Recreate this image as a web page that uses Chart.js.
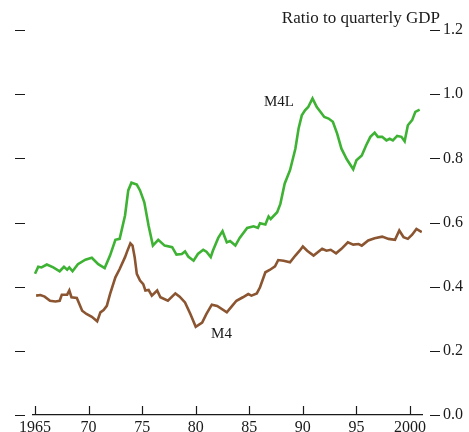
<!DOCTYPE html>
<html>
<head>
<meta charset="utf-8">
<script src="https://cdn.jsdelivr.net/npm/chart.js@4.4.1/dist/chart.umd.min.js"></script>
<style>
    html, body { margin: 0; padding: 0; background: #ffffff; }
    #wrap { width: 469px; height: 432px; }
</style>
</head>
<body>
<div id="wrap"><canvas id="moneyChart" width="469" height="432"></canvas></div>
<script>
// M4L ratio to quarterly GDP (year, value)
const m4lYears = [
    1965.0, 1965.3, 1965.6, 1966.1, 1966.7, 1967.3, 1967.7, 1968.0, 1968.2, 1968.5,
    1969.0, 1969.7, 1970.3, 1970.9, 1971.5, 1972.0, 1972.5, 1972.9, 1973.4, 1973.7,
    1974.0, 1974.5, 1974.8, 1975.2, 1975.6, 1976.0, 1976.5, 1977.1, 1977.8, 1978.2,
    1978.7, 1979.0, 1979.3, 1979.8, 1980.2, 1980.7, 1981.0, 1981.4, 1981.6, 1982.1,
    1982.5, 1982.9, 1983.2, 1983.7, 1984.1, 1984.8, 1985.4, 1985.8, 1986.0, 1986.5,
    1986.8, 1987.0, 1987.6, 1987.9, 1988.3, 1988.8, 1989.3, 1989.6, 1989.9, 1990.2,
    1990.5, 1990.9, 1991.3, 1991.6, 1992.0, 1992.4, 1992.8, 1993.2, 1993.6, 1994.1,
    1994.7, 1995.0, 1995.5, 1995.9, 1996.3, 1996.7, 1997.0, 1997.4, 1997.8, 1998.1,
    1998.4, 1998.8, 1999.2, 1999.5, 1999.8, 2000.2, 2000.5, 2000.9
];
const m4lValues = [
    0.440, 0.462, 0.460, 0.469, 0.460, 0.448, 0.462, 0.453, 0.460, 0.448,
    0.470, 0.484, 0.490, 0.470, 0.458, 0.497, 0.546, 0.549, 0.622, 0.700,
    0.724, 0.718, 0.700, 0.663, 0.590, 0.528, 0.546, 0.528, 0.523, 0.500,
    0.502, 0.510, 0.494, 0.481, 0.502, 0.515, 0.509, 0.492, 0.512, 0.552,
    0.573, 0.538, 0.542, 0.528, 0.552, 0.583, 0.588, 0.583, 0.598, 0.594,
    0.619, 0.611, 0.632, 0.658, 0.721, 0.763, 0.830, 0.893, 0.934, 0.950,
    0.960, 0.987, 0.960, 0.947, 0.929, 0.924, 0.914, 0.877, 0.830, 0.797,
    0.766, 0.794, 0.809, 0.840, 0.867, 0.880, 0.867, 0.867, 0.856, 0.861,
    0.856, 0.870, 0.867, 0.853, 0.903, 0.919, 0.945, 0.952
];

// M4 ratio to quarterly GDP (year, value)
const m4Years = [
    1965.1, 1965.5, 1965.9, 1966.4, 1966.9, 1967.3, 1967.5, 1968.0, 1968.2, 1968.4,
    1968.9, 1969.4, 1969.8, 1970.3, 1970.8, 1971.1, 1971.4, 1971.7, 1972.0, 1972.5,
    1972.9, 1973.4, 1973.6, 1973.9, 1974.1, 1974.3, 1974.5, 1974.8, 1975.1, 1975.3,
    1975.6, 1975.9, 1976.4, 1976.7, 1977.4, 1978.1, 1978.5, 1979.0, 1979.5, 1980.0,
    1980.6, 1981.0, 1981.5, 1982.0, 1982.9, 1983.4, 1983.8, 1984.4, 1984.9, 1985.2,
    1985.7, 1986.0, 1986.5, 1986.9, 1987.4, 1987.7, 1988.2, 1988.8, 1989.3, 1989.7,
    1990.0, 1990.4, 1991.0, 1991.8, 1992.2, 1992.6, 1993.1, 1993.6, 1994.2, 1994.7,
    1995.2, 1995.5, 1996.1, 1996.7, 1997.4, 1998.0, 1998.6, 1999.0, 1999.4, 1999.8,
    2000.2, 2000.6, 2001.1
];
const m4Values = [
    0.372, 0.374, 0.369, 0.356, 0.354, 0.356, 0.375, 0.375, 0.388, 0.367,
    0.365, 0.325, 0.315, 0.306, 0.292, 0.320, 0.327, 0.340, 0.377, 0.429,
    0.455, 0.492, 0.510, 0.535, 0.528, 0.492, 0.440, 0.419, 0.408, 0.388,
    0.390, 0.372, 0.388, 0.367, 0.356, 0.379, 0.369, 0.351, 0.315, 0.275,
    0.288, 0.315, 0.344, 0.340, 0.320, 0.340, 0.356, 0.367, 0.377, 0.372,
    0.379, 0.398, 0.445, 0.452, 0.463, 0.483, 0.481, 0.476, 0.497, 0.512,
    0.525, 0.512, 0.497, 0.518, 0.512, 0.515, 0.504, 0.518, 0.538, 0.531,
    0.533, 0.528, 0.544, 0.551, 0.556, 0.549, 0.546, 0.575, 0.554, 0.549,
    0.562, 0.580, 0.570
];

const xTickYears = [1965, 1970, 1975, 1980, 1985, 1990, 1995, 2000];
const xTickLabels = ['1965', '70', '75', '80', '85', '90', '95', '2000'];
const yTickValues = [0, 0.2, 0.4, 0.6, 0.8, 1.0, 1.2];

const inkColor = '#1a1a1a';
const serifFont = '"Liberation Serif", "DejaVu Serif", serif';

function toPoints(xs, ys) {
    return xs.map((x, i) => ({ x: x, y: ys[i] }));
}

// Dashes on both sides, upward ticks on the year axis, labels
const decorations = {
    id: 'decorations',
    afterDraw(chart) {
        const ctx = chart.ctx;
        const area = chart.chartArea;
        const xs = chart.scales.x;
        const ys = chart.scales.y;

        ctx.save();
        ctx.strokeStyle = inkColor;
        ctx.lineWidth = 1.2;

        yTickValues.forEach(v => {
            const py = Math.round(ys.getPixelForValue(v)) + 0.5;
            ctx.beginPath();
            ctx.moveTo(15, py);
            ctx.lineTo(25, py);
            ctx.moveTo(area.right + 8, py);
            ctx.lineTo(area.right + 18, py);
            ctx.stroke();
        });

        xTickYears.forEach(yr => {
            const px = Math.round(xs.getPixelForValue(yr)) + 0.5;
            ctx.beginPath();
            ctx.moveTo(px, area.bottom);
            ctx.lineTo(px, area.bottom - 9);
            ctx.stroke();
        });

        ctx.fillStyle = inkColor;
        ctx.font = '17px ' + serifFont;
        ctx.textAlign = 'right';
        ctx.textBaseline = 'alphabetic';
        ctx.fillText('Ratio to quarterly GDP', area.right + 18, area.top - 7);

        ctx.font = '15px ' + serifFont;
        ctx.textAlign = 'left';
        ctx.fillText('M4L', xs.getPixelForValue(1986.37), ys.getPixelForValue(0.962));
        ctx.fillText('M4', xs.getPixelForValue(1981.43), ys.getPixelForValue(0.239));
        ctx.restore();
    }
};

const ctx = document.getElementById('moneyChart').getContext('2d');
new Chart(ctx, {
    type: 'line',
    data: {
        datasets: [
            {
                label: 'M4L',
                data: toPoints(m4lYears, m4lValues),
                borderColor: '#3db233',
                borderWidth: 2.6,
                pointRadius: 0,
                tension: 0
            },
            {
                label: 'M4',
                data: toPoints(m4Years, m4Values),
                borderColor: '#8a5530',
                borderWidth: 2.6,
                pointRadius: 0,
                tension: 0
            }
        ]
    },
    options: {
        responsive: false,
        animation: false,
        layout: { padding: { top: 30, left: 33, right: 0, bottom: 0 } },
        plugins: {
            legend: { display: false },
            tooltip: { enabled: false }
        },
        scales: {
            x: {
                type: 'linear',
                min: 1964.81,
                max: 2001.12,
                afterBuildTicks: scale => {
                    scale.ticks = xTickYears.map(v => ({ value: v }));
                },
                afterFit: scale => { scale.height = 17; },
                grid: { display: false, drawTicks: false },
                border: { display: true, color: inkColor, width: 1.2 },
                ticks: {
                    padding: 3,
                    color: inkColor,
                    font: { family: serifFont, size: 16 },
                    maxRotation: 0,
                    autoSkip: false,
                    callback: function(value) {
                        return xTickLabels[xTickYears.indexOf(value)];
                    }
                }
            },
            y: {
                position: 'right',
                min: 0,
                max: 1.2,
                afterBuildTicks: scale => {
                    scale.ticks = yTickValues.map(v => ({ value: v }));
                },
                afterFit: scale => {
                    // keep the plot area fixed; labels may overhang
                    scale.width = 47;
                    scale.paddingTop = 0;
                    scale.paddingBottom = 0;
                },
                grid: { display: false, drawTicks: false },
                border: { display: false },
                ticks: {
                    padding: 21,
                    color: inkColor,
                    font: { family: serifFont, size: 16 },
                    callback: value => value.toFixed(1)
                }
            }
        }
    },
    plugins: [decorations]
});
</script>
</body>
</html>
